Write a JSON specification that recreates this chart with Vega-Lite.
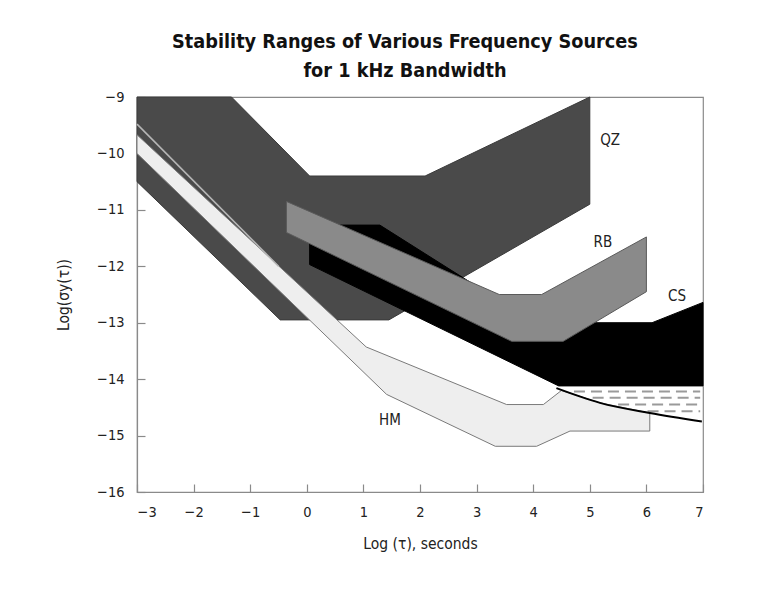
{
  "$schema": "https://vega.github.io/schema/vega-lite/v6.json",
  "width": 566,
  "height": 395,
  "autosize": "none",
  "padding": {"left": 137, "top": 97, "right": 57, "bottom": 110},
  "background": "white",
  "config": {
    "view": {"stroke": "#8a8a8a", "strokeWidth": 1.2},
    "font": "DejaVu Sans Condensed",
    "axis": {
      "grid": false,
      "domainColor": "#8a8a8a",
      "domainWidth": 1.2,
      "tickColor": "#8a8a8a",
      "tickWidth": 1.2,
      "tickSize": -8,
      "labelFont": "DejaVu Sans Condensed",
      "labelFontSize": 14.5,
      "labelColor": "#222",
      "titleFont": "DejaVu Sans Condensed",
      "titleFontSize": 15.5,
      "titleFontWeight": "normal",
      "titleColor": "#222"
    }
  },
  "title": {
    "text": ["Stability Ranges of Various Frequency Sources", "for 1 kHz Bandwidth"],
    "font": "DejaVu Sans Condensed",
    "fontSize": 19.7,
    "fontWeight": "bold",
    "color": "#111",
    "lineHeight": 29,
    "anchor": "middle",
    "dx": -15,
    "offset": 8
  },
  "datasets": {
    "poly": [
      {"shape": "QZ", "i": 0, "x": -3, "y": -9},
      {"shape": "QZ", "i": 1, "x": -1.33, "y": -9},
      {"shape": "QZ", "i": 2, "x": 0.05, "y": -10.4},
      {"shape": "QZ", "i": 3, "x": 2.09, "y": -10.4},
      {"shape": "QZ", "i": 4, "x": 5.0, "y": -9.0},
      {"shape": "QZ", "i": 5, "x": 5.0, "y": -10.9},
      {"shape": "QZ", "i": 6, "x": 1.45, "y": -12.95},
      {"shape": "QZ", "i": 7, "x": -0.47, "y": -12.95},
      {"shape": "QZ", "i": 8, "x": -3, "y": -10.5},

      {"shape": "CS", "i": 0, "x": 0.05, "y": -11.27},
      {"shape": "CS", "i": 1, "x": 1.29, "y": -11.27},
      {"shape": "CS", "i": 2, "x": 4.02, "y": -13.0},
      {"shape": "CS", "i": 3, "x": 6.1, "y": -13.0},
      {"shape": "CS", "i": 4, "x": 7.0, "y": -12.64},
      {"shape": "CS", "i": 5, "x": 7.0, "y": -14.12},
      {"shape": "CS", "i": 6, "x": 4.45, "y": -14.12},
      {"shape": "CS", "i": 7, "x": 0.05, "y": -11.97},

      {"shape": "RB", "i": 0, "x": -0.36, "y": -10.85},
      {"shape": "RB", "i": 1, "x": 3.4, "y": -12.5},
      {"shape": "RB", "i": 2, "x": 4.15, "y": -12.5},
      {"shape": "RB", "i": 3, "x": 6.0, "y": -11.48},
      {"shape": "RB", "i": 4, "x": 6.0, "y": -12.45},
      {"shape": "RB", "i": 5, "x": 4.53, "y": -13.33},
      {"shape": "RB", "i": 6, "x": 3.62, "y": -13.33},
      {"shape": "RB", "i": 7, "x": -0.36, "y": -11.4},

      {"shape": "HM", "i": 0, "x": -3, "y": -9.67},
      {"shape": "HM", "i": 1, "x": 1.05, "y": -13.43},
      {"shape": "HM", "i": 2, "x": 3.53, "y": -14.45},
      {"shape": "HM", "i": 3, "x": 4.18, "y": -14.45},
      {"shape": "HM", "i": 4, "x": 4.5, "y": -14.2},
      {"shape": "HM", "i": 5, "x": 5.18, "y": -14.42},
      {"shape": "HM", "i": 6, "x": 6.06, "y": -14.6},
      {"shape": "HM", "i": 7, "x": 6.06, "y": -14.92},
      {"shape": "HM", "i": 8, "x": 4.65, "y": -14.92},
      {"shape": "HM", "i": 9, "x": 4.06, "y": -15.19},
      {"shape": "HM", "i": 10, "x": 3.33, "y": -15.19},
      {"shape": "HM", "i": 11, "x": 1.41, "y": -14.27},
      {"shape": "HM", "i": 12, "x": -3, "y": -10.0}
    ],
    "thin": [
      {"i": 0, "x": -3, "y": -9.48},
      {"i": 1, "x": -0.5, "y": -12.0}
    ],
    "curve": [
      {"i": 0, "x": 4.41, "y": -14.16},
      {"i": 1, "x": 5.18, "y": -14.42},
      {"i": 2, "x": 6.06, "y": -14.6},
      {"i": 3, "x": 6.98, "y": -14.75}
    ],
    "dashes": [
      {"y": -14.22, "x1": 4.72, "x2": 6.95},
      {"y": -14.33, "x1": 5.05, "x2": 6.95},
      {"y": -14.45, "x1": 5.5, "x2": 6.95},
      {"y": -14.57, "x1": 6.02, "x2": 6.95}
    ],
    "labels": [
      {"label": "QZ", "x": 5.36, "y": -9.76},
      {"label": "RB", "x": 5.23, "y": -11.57},
      {"label": "CS", "x": 6.54, "y": -12.52},
      {"label": "HM", "x": 1.47, "y": -14.72}
    ]
  },
  "encoding": {
    "x": {
      "field": "x", "type": "quantitative",
      "scale": {"domain": [-3, 7], "nice": false, "zero": false},
      "axis": {"title": "Log (τ), seconds", "values": [-3, -2, -1, 0, 1, 2, 3, 4, 5, 6, 7], "labelPadding": 21, "titlePadding": 18}
    },
    "y": {
      "field": "y", "type": "quantitative",
      "scale": {"domain": [-16, -9], "nice": false, "zero": false},
      "axis": {"title": "Log(σy(τ))", "values": [-16, -15, -14, -13, -12, -11, -10, -9], "labelPadding": 21, "titlePadding": 25}
    }
  },
  "layer": [
    {
      "data": {"name": "poly"},
      "transform": [{"filter": "datum.shape === 'QZ'"}],
      "mark": {"type": "line", "interpolate": "linear-closed", "fill": "#4a4a4a", "stroke": "#3a3a3a", "strokeWidth": 1},
      "encoding": {"order": {"field": "i", "type": "quantitative"}}
    },
    {
      "data": {"name": "poly"},
      "transform": [{"filter": "datum.shape === 'CS'"}],
      "mark": {"type": "line", "interpolate": "linear-closed", "fill": "#000000", "stroke": "#000000", "strokeWidth": 1},
      "encoding": {"order": {"field": "i", "type": "quantitative"}}
    },
    {
      "data": {"name": "poly"},
      "transform": [{"filter": "datum.shape === 'RB'"}],
      "mark": {"type": "line", "interpolate": "linear-closed", "fill": "#8a8a8a", "stroke": "#5a5a5a", "strokeWidth": 1},
      "encoding": {"order": {"field": "i", "type": "quantitative"}}
    },
    {
      "data": {"name": "poly"},
      "transform": [{"filter": "datum.shape === 'HM'"}],
      "mark": {"type": "line", "interpolate": "linear-closed", "fill": "#eeeeee", "stroke": "#7a7a7a", "strokeWidth": 1},
      "encoding": {"order": {"field": "i", "type": "quantitative"}}
    },
    {
      "data": {"name": "thin"},
      "mark": {"type": "line", "stroke": "#b5b5b5", "strokeWidth": 1.6},
      "encoding": {"order": {"field": "i", "type": "quantitative"}}
    },
    {
      "data": {"name": "dashes"},
      "mark": {"type": "rule", "stroke": "#9a9a9a", "strokeWidth": 2, "strokeDash": [11, 6]},
      "encoding": {
        "x": {"field": "x1", "type": "quantitative"},
        "x2": {"field": "x2"},
        "y": {"field": "y", "type": "quantitative"}
      }
    },
    {
      "data": {"name": "curve"},
      "mark": {"type": "line", "interpolate": "monotone", "stroke": "#000000", "strokeWidth": 2},
      "encoding": {"order": {"field": "i", "type": "quantitative"}}
    },
    {
      "data": {"name": "labels"},
      "mark": {"type": "text", "font": "DejaVu Sans Condensed", "fontSize": 15, "color": "#222"},
      "encoding": {"text": {"field": "label"}}
    }
  ]
}
